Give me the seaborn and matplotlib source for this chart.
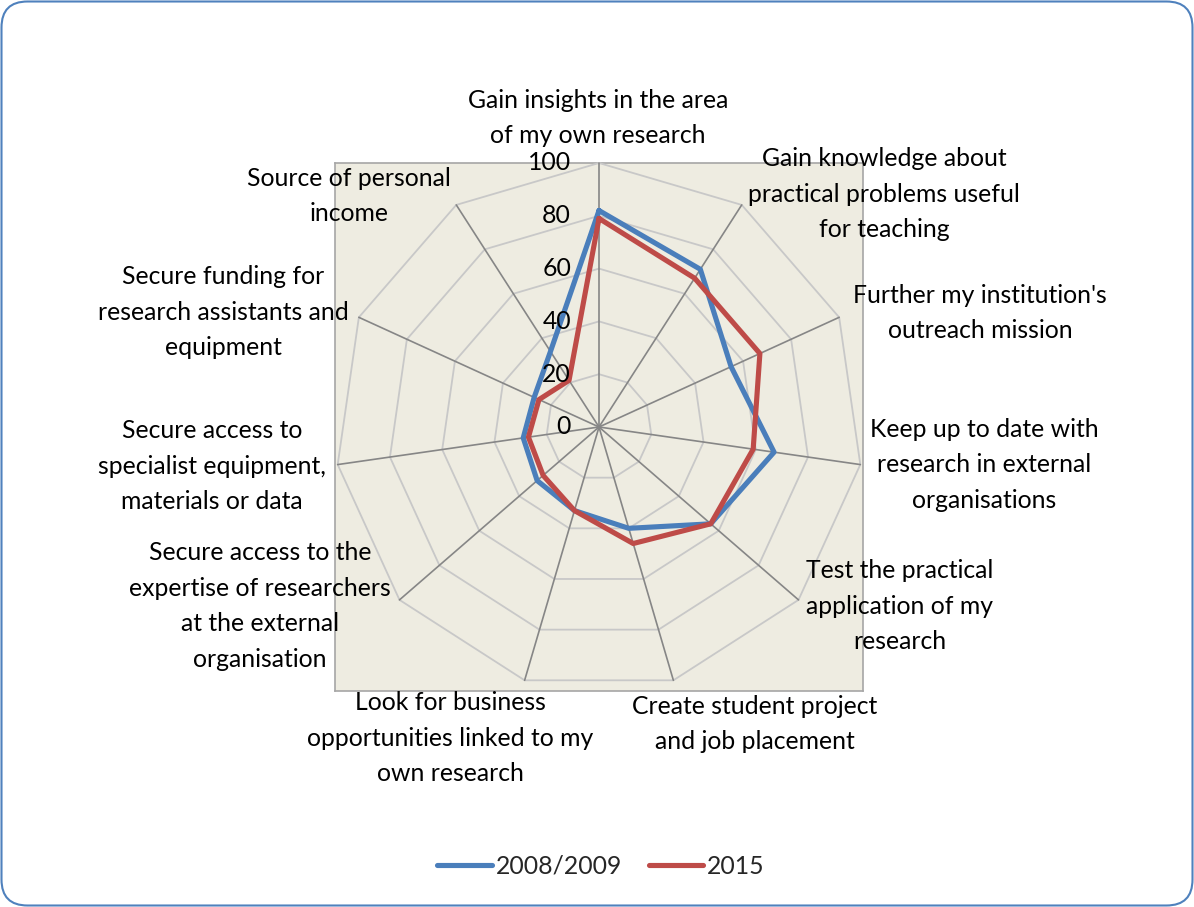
import numpy as np
import pandas as pd
import matplotlib
matplotlib.use("Agg")
import matplotlib.pyplot as plt
import seaborn as sns
from matplotlib.patches import FancyBboxPatch
from matplotlib.transforms import IdentityTransform, offset_copy

# ---------------- data ----------------
categories = [
    "Gain insights in the area\nof my own research",
    "Gain knowledge about\npractical problems useful\nfor teaching",
    "Further my institution's\noutreach mission",
    "Keep up to date with\nresearch in external\norganisations",
    "Test the practical\napplication of my\nresearch",
    "Create student project\nand job placement",
    "Look for business\nopportunities linked to my\nown research",
    "Secure access to the\nexpertise of researchers\nat the external\norganisation",
    "Secure access to\nspecialist equipment,\nmaterials or data",
    "Secure funding for\nresearch assistants and\nequipment",
    "Source of personal\nincome",
]
series_names = ["2008/2009", "2015"]
values_2008_2009 = [82, 71, 55, 67, 56, 40, 33, 31, 29, 27, 34]
values_2015 = [79, 67, 67, 59, 56, 46, 33, 28, 27, 25, 21]
tick_values = [0, 20, 40, 60, 80, 100]

# ---------------- layout / style ----------------
W, H = 1194, 907
PLOT_LEFT, PLOT_TOP, PLOT_SIZE = 335, 163, 528
LABEL_CENTERS = [(598, 118), (884, 194), (980, 313), (984, 465), (900, 606),
                 (755, 724), (450, 738), (260, 606), (212, 466), (223, 312), (349, 196)]
COLORS = ["#4A7EBB", "#BE4B48"]
FS = 17.8
LS = 1.68

sns.set_theme(style="white")
plt.rcParams["font.family"] = ["Lato", "DejaVu Sans"]

fig = plt.figure(figsize=(W / 100, H / 100), dpi=100)
fig.patch.set_facecolor("white")

rect = [PLOT_LEFT / W, 1 - (PLOT_TOP + PLOT_SIZE) / H, PLOT_SIZE / W, PLOT_SIZE / H]

# beige plot-area background
bg = fig.add_axes(rect, zorder=0)
bg.set_facecolor("#EEECE1")
bg.set_xticks([])
bg.set_yticks([])
for s in bg.spines.values():
    s.set_color("#A6A6A6")
    s.set_linewidth(1.2)

ax = fig.add_axes(rect, projection="polar", zorder=1)
ax.patch.set_alpha(0)
ax.set_theta_zero_location("N")
ax.set_theta_direction(-1)
ax.set_ylim(0, 100)
ax.grid(False)
ax.spines["polar"].set_visible(False)
ax.set_xticks([])
ax.set_yticks([])

n = len(categories)
theta = np.arange(n) * 2 * np.pi / n
theta_closed = np.append(theta, 2 * np.pi)

# polygon grid rings
for v in tick_values[1:]:
    ax.plot(theta_closed, [v] * (n + 1), color="#C8C8C8", lw=1.3, zorder=1, clip_on=False)
# spokes
for t in theta:
    ax.plot([t, t], [0, 100], color="#868686", lw=1.2, zorder=2, clip_on=False)

# data
rows = []
for name, vals in zip(series_names, [values_2008_2009, values_2015]):
    closed = list(vals) + [vals[0]]
    for t, v in zip(theta_closed, closed):
        rows.append({"theta": t, "value": v, "series": name})
df = pd.DataFrame(rows)
sns.lineplot(data=df, x="theta", y="value", hue="series", hue_order=series_names,
             palette=COLORS, sort=False, estimator=None, linewidth=3.7, ax=ax,
             zorder=5)
ax.set_xlabel("")
ax.set_ylabel("")
ax.set_xticks([])
ax.set_yticks([])
ax.set_ylim(0, 100)

handles, labels = ax.get_legend_handles_labels()
if ax.get_legend() is not None:
    ax.get_legend().remove()

# radial tick labels
tick_tr = offset_copy(ax.transData, fig=fig, x=-28, y=0, units="dots")
for v in tick_values:
    ax.text(0, v, str(v), transform=tick_tr, ha="right", va="center",
            fontsize=FS, color="black", zorder=6, clip_on=False)

# category labels
for lab, (x, y) in zip(categories, LABEL_CENTERS):
    fig.text(x / W, 1 - y / H, lab, ha="center", va="center", multialignment="center",
             fontsize=FS, linespacing=LS, color="black")

# legend
leg = fig.legend(handles, labels, loc="center", bbox_to_anchor=(601 / W, 1 - 866 / H),
                 ncol=2, frameon=False, fontsize=FS, handlelength=2.2,
                 handletextpad=0.15, columnspacing=1.1)
for lh in leg.get_lines():
    lh.set_linewidth(3.7)

# rounded outer frame
frame = FancyBboxPatch((1.5, 1.5), W - 3, H - 3, boxstyle="round,pad=0,rounding_size=26",
                       transform=IdentityTransform(), fill=False,
                       edgecolor="#4F81BD", linewidth=1.5)
fig.add_artist(frame)

fig.savefig("out.png", dpi=100)
